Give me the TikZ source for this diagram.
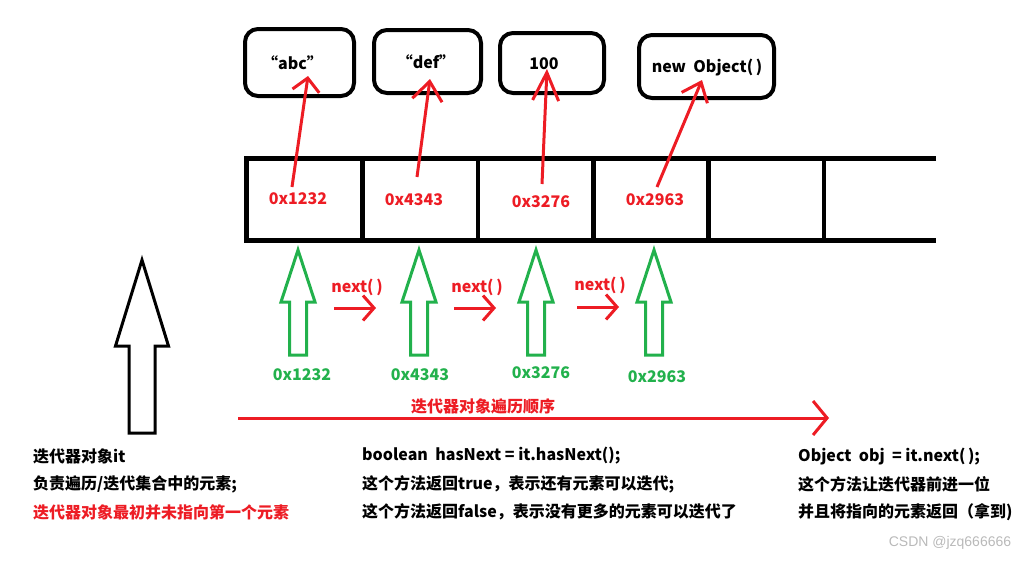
\documentclass[tikz,border=0pt]{standalone}
\usepackage{fontspec}
\setmainfont{Noto Sans CJK SC}
\newfontfamily\wmfont{Liberation Sans}
\usetikzlibrary{arrows.meta}
\definecolor{pred}{RGB}{237,28,36}
\definecolor{pgreen}{RGB}{34,177,76}
\definecolor{wmgray}{RGB}{185,185,185}
\tikzset{
  valbox/.style={draw, line width=4pt, rounded corners=13pt, inner sep=0pt},
  valtext/.style={font=\bfseries\fontsize{16}{19}\selectfont, inner sep=0pt},
  addr/.style={text=pred, font=\bfseries\fontsize{16}{19}\selectfont, inner sep=0pt},
  gaddr/.style={text=pgreen, font=\bfseries\fontsize{16}{19}\selectfont, inner sep=0pt},
  nextlbl/.style={text=pred, font=\bfseries\fontsize{16}{19}\selectfont, inner sep=0pt},
  ptr/.style={draw=pred, line width=3pt, -{Straight Barb[length=12pt,width=26pt]}},
  longptr/.style={draw=pred, line width=3pt, -{Straight Barb[length=14pt,width=34pt]}},
  cellline/.style={line width=4.5pt},
  garrow/.style={draw=pgreen, line width=3pt, line join=miter},
  karrow/.style={draw=black, line width=3pt, line join=miter},
  desc/.style={anchor=west, font=\bfseries\fontsize{16}{19}\selectfont, inner sep=0pt},
}
\begin{document}
\begin{tikzpicture}[x=1pt,y=-1pt]
\useasboundingbox (0,0) rectangle (1028,560);

% value boxes
\node[valbox, minimum width=109, minimum height=67] (b1) at (299.5,62.5) {};
\node[valbox, minimum width=107, minimum height=63] (b2) at (427.5,61.5) {};
\node[valbox, minimum width=104, minimum height=60] (b3) at (552,63) {};
\node[valbox, minimum width=135, minimum height=63] (b4) at (706.5,66.5) {};
\node[valtext] (t1) at (292.5,63) {“abc”};
\node[valtext] (t2) at (426,62) {“def”};
\node[valtext] (t3) at (544,64) {100};
\node[valtext] (t4) at (707,68) {new\ \ Object(\,)};

% array cells
\draw[cellline] (936,158.5) -- (246.5,158.5) -- (246.5,240.5) -- (936,240.5);
\foreach \x in {362.5,478,593.5,708.5,824}
  \draw[cellline] (\x,158.5) -- (\x,240.5);

\node[addr] (a1) at (298,199) {0x1232};
\node[addr] (a2) at (414,200) {0x4343};
\node[addr] (a3) at (541,202) {0x3276};
\node[addr] (a4) at (655,200) {0x2963};

% pointer arrows
\coordinate (s1) at (292,187); \coordinate (e1) at (308,76);
\coordinate (s2) at (417,177); \coordinate (e2) at (430,79);
\coordinate (s3) at (542,184); \coordinate (e3) at (547,69);
\coordinate (s4) at (657,187); \coordinate (e4) at (702,80);
\draw[ptr, -{Straight Barb[length=13pt,width=27pt]}] (s1) -- (e1);
\draw[ptr, -{Straight Barb[length=19pt,width=30pt]}] (s2) -- (e2);
\draw[ptr, -{Straight Barb[length=28pt,width=26pt]}] (s3) -- (e3);
\draw[ptr, -{Straight Barb[length=17pt,width=28pt]}] (s4) -- (e4);

% green hollow arrows
\foreach \x in {298,419,536,654}
  \draw[garrow] (\x,250) -- ++(17,52) -- ++(-8.5,0) -- ++(0,53) -- ++(-17,0) -- ++(0,-53) -- ++(-8.5,0) -- cycle;

\node[gaddr] (g1) at (302,375) {0x1232};
\node[gaddr] (g2) at (420,375) {0x4343};
\node[gaddr] (g3) at (541,373) {0x3276};
\node[gaddr] (g4) at (657,377) {0x2963};

% next() arrows
\node[nextlbl] (nl1) at (357,287) {next(\,)};
\node[nextlbl] (nl2) at (477,287) {next(\,)};
\node[nextlbl] (nl3) at (600,285) {next(\,)};
\coordinate (n1s) at (334,308); \coordinate (n1e) at (376,308);
\coordinate (n2s) at (454,308); \coordinate (n2e) at (496,308);
\coordinate (n3s) at (577,307); \coordinate (n3e) at (619,307);
\draw[ptr, -{Straight Barb[length=11pt,width=25pt]}] (n1s) -- (n1e);
\draw[ptr, -{Straight Barb[length=11pt,width=25pt]}] (n2s) -- (n2e);
\draw[ptr, -{Straight Barb[length=11pt,width=25pt]}] (n3s) -- (n3e);

% black hollow arrow
\draw[karrow] (142,260) -- ++(26.5,86) -- ++(-13.5,0) -- ++(0,87) -- ++(-26,0) -- ++(0,-87) -- ++(-13.5,0) -- cycle;

% traversal order arrow
\coordinate (ls) at (238,418); \coordinate (le) at (829,418);
\draw[longptr] (ls) -- (le);
\node[nextlbl] (order) at (483,406) {迭代器对象遍历顺序};

% descriptions
\node[desc] (l1) at (33,456) {迭代器对象it};
\node[desc] (l2) at (33,484) {负责遍历/迭代集合中的元素;};
\node[desc, text=pred] (l3) at (33,512) {迭代器对象最初并未指向第一个元素};

\node[desc] (m1) at (362,456) {boolean\ \ hasNext = it.hasNext();};
\node[desc] (m2) at (362,484) {这个方法返回true，表示还有元素可以迭代;};
\node[desc] (m3) at (362,512) {这个方法返回false，表示没有更多的元素可以迭代了};

\node[desc] (r1) at (798,457) {Object\ \ obj\ \ = it.next(\,);};
\node[desc] (r2) at (798,484) {这个方法让迭代器前进一位};
\node[desc] (r3) at (798,512) {并且将指向的元素返回（拿到)};

\node[text=wmgray, font=\wmfont\fontsize{14}{16}\selectfont, inner sep=0pt] (wm) at (950,543) {CSDN @jzq666666};
\end{tikzpicture}
\end{document}
